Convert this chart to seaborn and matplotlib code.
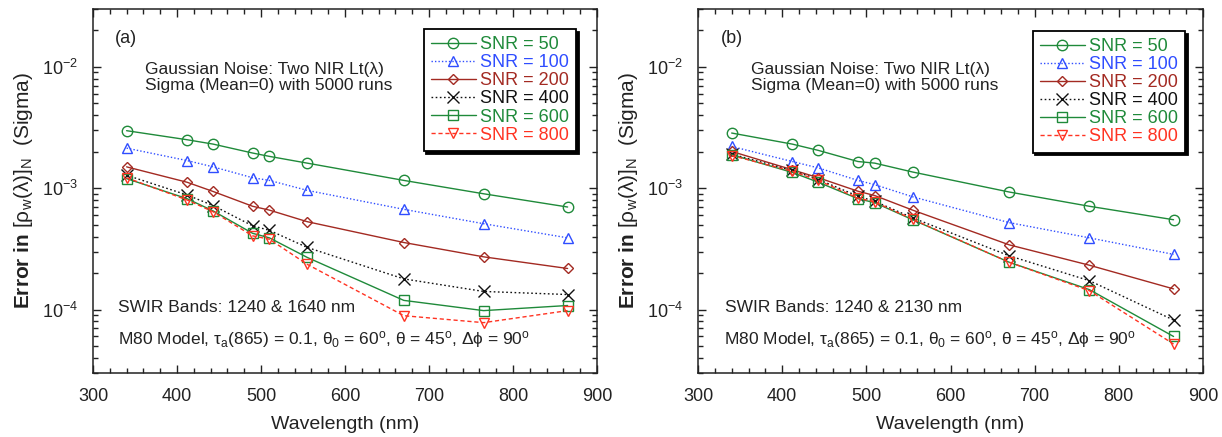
import numpy as np
import pandas as pd
import matplotlib
matplotlib.use("Agg")
import matplotlib.pyplot as plt
import seaborn as sns
from matplotlib.ticker import LogLocator, MultipleLocator

# ---------------- data ----------------
wavelengths = [340, 412, 443, 490, 510, 555, 670, 765, 865]
snr_labels = ["SNR = 50", "SNR = 100", "SNR = 200", "SNR = 400", "SNR = 600", "SNR = 800"]

# Panel (a): SWIR 1240 & 1640 nm
a_snr50 = [2.98e-3, 2.51e-3, 2.31e-3, 1.95e-3, 1.83e-3, 1.61e-3, 1.16e-3, 9.0e-4, 7.0e-4]
a_snr100 = [2.14e-3, 1.69e-3, 1.50e-3, 1.22e-3, 1.16e-3, 9.6e-4, 6.7e-4, 5.1e-4, 3.9e-4]
a_snr200 = [1.50e-3, 1.12e-3, 9.4e-4, 7.1e-4, 6.6e-4, 5.3e-4, 3.57e-4, 2.72e-4, 2.18e-4]
a_snr400 = [1.28e-3, 8.8e-4, 7.2e-4, 4.9e-4, 4.5e-4, 3.25e-4, 1.79e-4, 1.41e-4, 1.33e-4]
a_snr600 = [1.20e-3, 8.2e-4, 6.5e-4, 4.25e-4, 3.9e-4, 2.69e-4, 1.19e-4, 9.8e-5, 1.08e-4]
a_snr800 = [1.22e-3, 8.0e-4, 6.4e-4, 4.05e-4, 3.8e-4, 2.36e-4, 8.9e-5, 7.8e-5, 9.8e-5]

# Panel (b): SWIR 1240 & 2130 nm
b_snr50 = [2.85e-3, 2.31e-3, 2.05e-3, 1.66e-3, 1.61e-3, 1.36e-3, 9.3e-4, 7.1e-4, 5.5e-4]
b_snr100 = [2.21e-3, 1.66e-3, 1.47e-3, 1.16e-3, 1.07e-3, 8.5e-4, 5.2e-4, 3.9e-4, 2.85e-4]
b_snr200 = [2.01e-3, 1.42e-3, 1.22e-3, 9.45e-4, 8.7e-4, 6.6e-4, 3.41e-4, 2.32e-4, 1.48e-4]
b_snr400 = [1.91e-3, 1.40e-3, 1.18e-3, 8.6e-4, 7.8e-4, 5.7e-4, 2.77e-4, 1.73e-4, 8.2e-5]
b_snr600 = [1.89e-3, 1.35e-3, 1.12e-3, 8.2e-4, 7.6e-4, 5.5e-4, 2.45e-4, 1.46e-4, 6.0e-5]
b_snr800 = [1.86e-3, 1.38e-3, 1.16e-3, 8.3e-4, 7.7e-4, 5.55e-4, 2.45e-4, 1.43e-4, 5.2e-5]

panel_a = [a_snr50, a_snr100, a_snr200, a_snr400, a_snr600, a_snr800]
panel_b = [b_snr50, b_snr100, b_snr200, b_snr400, b_snr600, b_snr800]

panel_tags = ["(a)", "(b)"]
swir_texts = ["SWIR Bands: 1240 & 1640 nm", "SWIR Bands: 1240 & 2130 nm"]
noise_text = "Gaussian Noise: Two NIR Lt(\u03bb)\nSigma (Mean=0) with 5000 runs"
model_text = (r"M80 Model, $\mathrm{\tau_{a}}$(865) = 0.1, $\mathrm{\theta_{0}}$ = 60$^{\rm o}$, "
              r"$\mathrm{\theta}$ = 45$^{\rm o}$, $\mathrm{\Delta\phi}$ = 90$^{\rm o}$")
x_label = "Wavelength (nm)"
y_label = r"$\bf{Error\ in}$ $\mathrm{[\rho_{w}(\lambda)]_{N}}$  (Sigma)"

# ---------------- styles ----------------
colors = ["#1f8a3a", "#2f4dff", "#a32a22", "#111111", "#1f8a3a", "#ff3322"]
markers = ["o", "^", "D", "x", "s", "v"]
msizes = [7.5, 6.5, 5.5, 8, 7, 6.5]
linestyles = ["-", (0, (1, 1.5)), "-", (0, (1.2, 1.8)), "-", (0, (3, 2))]

sns.set_theme(style="ticks")
plt.rcParams["font.family"] = ["Liberation Sans", "DejaVu Sans"]
plt.rcParams["mathtext.fontset"] = "custom"
plt.rcParams["mathtext.rm"] = "Liberation Sans"
plt.rcParams["mathtext.it"] = "Liberation Sans:italic"
plt.rcParams["mathtext.bf"] = "Liberation Sans:bold"
plt.rcParams["mathtext.sf"] = "Liberation Sans"

fig = plt.figure(figsize=(12.22, 4.37), dpi=100)
fig.patch.set_facecolor("white")
W, H = 1222, 437
axes = [
    fig.add_axes([93 / W, 1 - 373 / H, 504 / W, 364 / H]),
    fig.add_axes([698 / W, 1 - 373 / H, 505 / W, 364 / H]),
]
legend_anchor = [(0.958, 0.945), (0.964, 0.940)]
text_x = [(0.044, 0.103, 0.050, 0.050), (0.046, 0.104, 0.053, 0.051)]

text_color = "#222222"

for k, (ax, panel) in enumerate(zip(axes, [panel_a, panel_b])):
    rows = []
    for lab, vals in zip(snr_labels, panel):
        for w, v in zip(wavelengths, vals):
            rows.append({"Wavelength": w, "Error": v, "SNR": lab})
    df = pd.DataFrame(rows)
    for i, lab in enumerate(snr_labels):
        sub = df[df["SNR"] == lab]
        sns.lineplot(data=sub, x="Wavelength", y="Error", ax=ax, color=colors[i],
                     marker=markers[i], markersize=msizes[i], markerfacecolor="none",
                     markeredgecolor=colors[i], markeredgewidth=1.0,
                     linestyle=linestyles[i], linewidth=1.0, label=lab, legend=False,
                     errorbar=None, sort=False)

    ax.set_yscale("log")
    ax.set_xlim(300, 900)
    ax.set_ylim(3e-5, 3e-2)
    ax.xaxis.set_major_locator(MultipleLocator(100))
    ax.xaxis.set_minor_locator(MultipleLocator(20))
    ax.yaxis.set_major_locator(LogLocator(base=10, numticks=10))
    ax.yaxis.set_minor_locator(LogLocator(base=10, subs=np.arange(2, 10), numticks=20))
    ax.tick_params(which="both", direction="in", top=True, right=True, colors="#222222",
                   width=1.0)
    ax.tick_params(which="major", length=6, labelsize=13, pad=11, labelcolor=text_color)
    ax.tick_params(which="minor", length=3.5)
    for s in ax.spines.values():
        s.set_linewidth(1.1)
        s.set_color("#222222")
    ax.set_xlabel(x_label, fontsize=14, color=text_color, labelpad=8)
    ax.set_ylabel(y_label, fontsize=15, color=text_color, labelpad=5)

    tx = text_x[k]
    ax.text(tx[0], 0.918, panel_tags[k], transform=ax.transAxes, fontsize=13,
            color=text_color, va="center", ha="left")
    ax.text(tx[1], 0.812, noise_text, transform=ax.transAxes, fontsize=12.5,
            color=text_color, va="center", ha="left", linespacing=1.05)
    ax.text(tx[2], 0.179, swir_texts[k], transform=ax.transAxes, fontsize=12.5,
            color=text_color, va="center", ha="left")
    ax.text(tx[3], 0.091, model_text, transform=ax.transAxes, fontsize=12.5,
            color=text_color, va="center", ha="left")

    handles = ax.get_lines()[:6]
    leg = ax.legend(handles, snr_labels, loc="upper right", bbox_to_anchor=legend_anchor[k],
                    frameon=True, fancybox=False, shadow={"color": "black", "alpha": 1.0},
                    edgecolor="black", framealpha=1.0, fontsize=13, labelcolor="linecolor",
                    handlelength=2.5, handletextpad=0.2, labelspacing=0.06,
                    borderpad=0.4, borderaxespad=0)
    leg.get_frame().set_linewidth(1.3)

fig.savefig("out.png", dpi=100, facecolor="white")
